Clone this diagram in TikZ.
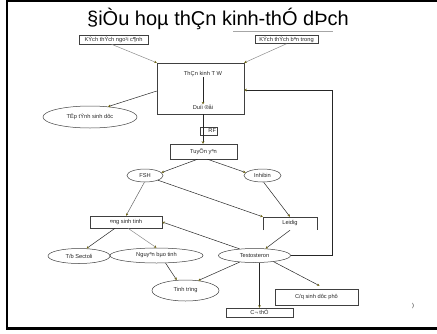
\documentclass[tikz,border=0pt]{standalone}
\usepackage{fontspec}
\setmainfont{Liberation Sans}
\usetikzlibrary{shapes.geometric,arrows.meta,calc}
\definecolor{tipc}{RGB}{110,100,20}
\begin{document}
\begin{tikzpicture}[x=1pt,y=-1pt,
  sm/.style={font=\fontsize{5.7}{6}\selectfont, inner sep=0pt, text=black!85},
  bx/.style={sm, draw=black!75, line width=0.5pt, rectangle},
  el/.style={sm, draw=black!75, line width=0.5pt, ellipse},
  arr/.style={draw=black!85, line width=0.5pt, -{Stealth[length=2.6pt,width=2.6pt,color=tipc]}},
  garr/.style={arr, draw=black!45},
  frame/.style={draw=black, line width=2.4pt}]
\useasboundingbox (0,0) rectangle (437,333);
% frame
\coordinate (f1) at (437,1.2);
\coordinate (f2) at (7.2,1.2);
\coordinate (f3) at (7.2,328.5);
\coordinate (f4) at (437,328.5);
\draw[frame] (f1) -- (f2) -- (f3) -- (f4);
% title
\node[font=\fontsize{20}{21}\selectfont, inner sep=0pt] (title) at (218,19) {§iÒu hoµ thÇn kinh-thÓ dÞch};
\coordinate (u1) at (233,31.5);
\coordinate (u2) at (333,31.5);
\draw[black!35, line width=0.5pt] (u1) -- (u2);
% nodes
\node[bx, minimum width=69pt, minimum height=9pt] (kn) at (113.5,39.5) {KÝch thÝch ngo¹i c¶nh};
\node[bx, minimum width=63pt, minimum height=8pt] (kb) at (286.5,39.5) {KÝch thÝch bªn trong};
\node[bx, minimum width=87pt, minimum height=51pt] (tw) at (200.5,88.5) {};
\node[sm] (twt) at (203,74) {ThÇn kinh T W};
\node[sm] (dd) at (203,107) {Duíi ®åi};
\node[el, minimum width=94pt, minimum height=22pt] (tt) at (90,117) {TËp tÝnh sinh dôc};
\node[bx, minimum width=17pt, minimum height=8pt] (rf) at (208.5,131) {\makebox[15pt][r]{RF}};
\node[bx, minimum width=67pt, minimum height=15pt] (ty) at (203.5,151.5) {TuyÕn yªn};
\node[el, minimum width=36pt, minimum height=13pt] (fsh) at (145,175.5) {FSH};
\node[el, minimum width=37pt, minimum height=13pt] (inh) at (262.5,175.5) {Inhibin};
\node[bx, minimum width=72pt, minimum height=12pt] (ost) at (126,222) {¤ng sinh tinh};
\node[sm, minimum width=54pt, minimum height=13pt] (leid) at (290,223.5) {Leidig};
\draw[black!75, line width=0.5pt] (leid.south west) -- (leid.north west) -- (leid.north east) -- (leid.south east);
\node[el, minimum width=62pt, minimum height=15pt] (sect) at (79,256) {T/b Sectoli};
\node[el, minimum width=93pt, minimum height=15pt] (nbt) at (156.5,255.5) {Nguyªn bµo tinh};
\node[el, minimum width=72pt, minimum height=14pt] (test) at (254.5,255.5) {Testosteron};
\node[el, minimum width=67pt, minimum height=21pt] (ttr) at (185.5,290.5) {Tinh trïng};
\node[bx, minimum width=83pt, minimum height=16pt] (cq) at (316.5,297) {C/q sinh dôc phô};
\node[bx, minimum width=67pt, minimum height=9pt] (ct) at (259.5,312.5) {C¬ thÓ};
\node[sm] (par) at (413,306) {)};
% connectors
\draw[garr] ($(kn.south)+(-2,0)$) -- (tw.north west);
\draw[garr] (kb.south) -- (tw.north east);
\draw[arr] (twt.south) -- (dd.north);
\draw[arr] ($(tw.west)+(0,2.5)$) -- (tt.30);
\draw[arr] (dd |- tw.south) -- (dd |- ty.north);
\draw[arr] ($(ty.south)+(-6,0)$) -- (fsh.10);
\draw[arr] ($(ty.south)+(4,0)$) -- (inh.170);
\draw[arr, draw=black!60] (fsh.-95) -- (ost.north);
\draw[arr] (fsh.-20) -- (leid.north west);
\draw[arr] (inh.-80) -- (leid.north);
\draw[arr] (leid.south) -- (test.32);
\draw[arr] (test.156) -- (ost.east);
\coordinate (fb) at (332,90);
\draw[arr, line width=0.8pt] (test.east) -| (fb) -- (tw.east |- fb);
\draw[arr] ($(ost.south)+(-11,0)$) -- (sect.45);
\draw[garr] ($(ost.south)+(2,0)$) -- (nbt.north);
\draw[arr] (nbt.-40) -- (ttr.130);
\draw[arr] (test.-156) -- (ttr.38);
\draw[arr, line width=0.8pt] (test.south -| ct.north) -- (ct.north);
\draw[arr] (test.-18) -- ($(cq.north)+(3,-3)$);
\end{tikzpicture}
\end{document}
